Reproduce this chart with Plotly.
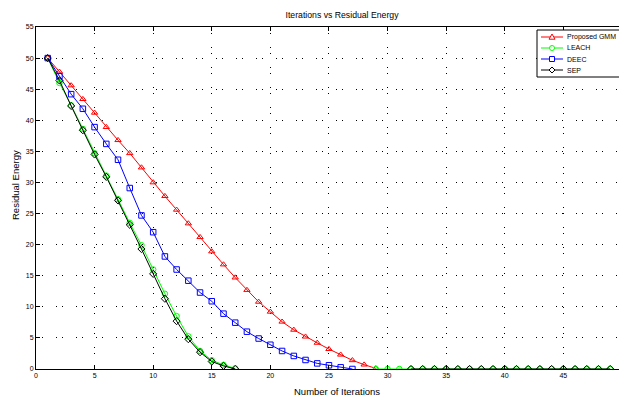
import plotly.graph_objects as go

iterations = list(range(1, 50))
gmm = [50, 47.8, 45.6, 43.4, 41.2, 38.9, 36.8, 34.7, 32.4, 30.0, 27.8, 25.6, 23.4, 21.2, 18.9,
       16.8, 14.7, 12.7, 10.8, 9.2, 7.6, 6.3, 5.2, 4.2, 3.2, 2.3, 1.4, 0.7, 0.1] + [None] * 20
leach = [50, 46.0, 42.4, 38.6, 34.7, 31.1, 27.3, 23.5, 19.9, 16.0, 12.1, 8.5, 5.25, 2.9, 1.4,
         0.65, 0.1] + [None] * 11 + [0] * 21
deec = [50, 47.1, 44.2, 41.85, 38.9, 36.2, 33.65, 29.1, 24.7, 22.0, 18.1, 16.0, 14.2, 12.3, 10.9,
        8.9, 7.45, 6.0, 4.9, 3.9, 2.9, 2.1, 1.45, 0.9, 0.6, 0.27, 0] + [None] * 22
sep = [50, 46.4, 42.3, 38.4, 34.5, 30.9, 27.1, 23.2, 19.3, 15.3, 11.3, 7.7, 4.8, 2.7, 1.2,
       0.5, 0] + [None] * 14 + [0] * 18

names = ["Proposed GMM", "LEACH", "DEEC", "SEP"]
colors = ["#ff0000", "#00ff00", "#0000ff", "#000000"]
symbols = ["triangle-up-open", "circle-open", "square-open", "diamond-open"]
values = [gmm, leach, deec, sep]

W, H = 619, 398
ML, MR, MT, MB = 36, 0, 27, 29
PW, PH = W - ML - MR, H - MT - MB

fig = go.Figure()
for name, vals, col, sym in zip(names, values, colors, symbols):
    fig.add_trace(go.Scatter(
        x=iterations, y=vals, name=name, mode="lines+markers",
        line=dict(color=col, width=1),
        marker=dict(symbol=sym, size=5.5, color=col, line=dict(width=1, color=col)),
        connectgaps=False, showlegend=False,
    ))

font = dict(family="Liberation Sans, Arial, sans-serif", color="black")

def px_x(px):
    return (px - ML) / PW

def px_y(py):
    return (H - MB - py) / PH

shapes = []
annotations = []
# custom compact legend (MATLAB style)
shapes.append(dict(type="rect", xref="paper", yref="paper",
                   x0=px_x(537), x1=px_x(622), y0=px_y(77), y1=px_y(30),
                   line=dict(color="black", width=1), fillcolor="white", layer="above"))
marker_paths = [
    "M-3,-2.2 L3,-2.2 L0,3 Z",
    None,
    "M-2.5,-2.5 L2.5,-2.5 L2.5,2.5 L-2.5,2.5 Z",
    "M0,-3 L3,0 L0,3 L-3,0 Z",
]
row_y = [37, 48, 59, 70]
for name, col, path, ry in zip(names, colors, marker_paths, row_y):
    shapes.append(dict(type="line", xref="paper", yref="paper",
                       x0=px_x(541), x1=px_x(563), y0=px_y(ry), y1=px_y(ry),
                       line=dict(color=col, width=1), layer="above"))
    if path is None:
        shapes.append(dict(type="circle", xref="paper", yref="paper",
                           xsizemode="pixel", ysizemode="pixel",
                           xanchor=px_x(552), yanchor=px_y(ry),
                           x0=-2.5, x1=2.5, y0=-2.5, y1=2.5,
                           line=dict(color=col, width=1), fillcolor="white", layer="above"))
    else:
        shapes.append(dict(type="path", xref="paper", yref="paper",
                           xsizemode="pixel", ysizemode="pixel",
                           xanchor=px_x(552), yanchor=px_y(ry), path=path,
                           line=dict(color=col, width=1), fillcolor="white", layer="above"))
    annotations.append(dict(text=name, xref="paper", yref="paper",
                            x=px_x(565), y=px_y(ry), xanchor="left", yanchor="middle",
                            showarrow=False, font=dict(size=7, **font)))

# axis titles
annotations.append(dict(text="Number of Iterations", xref="paper", yref="paper",
                        x=px_x(337), y=px_y(392), xanchor="center", yanchor="middle",
                        showarrow=False, font=dict(size=9.5, **font)))
annotations.append(dict(text="Residual Energy", xref="paper", yref="paper",
                        x=px_x(15), y=px_y(185), xanchor="center", yanchor="middle",
                        textangle=-90, showarrow=False, font=dict(size=9.5, **font)))

fig.update_layout(
    width=W, height=H,
    margin=dict(l=ML, r=MR, t=MT, b=MB, autoexpand=False),
    paper_bgcolor="white", plot_bgcolor="white",
    font=dict(size=7, **font),
    title=dict(text="Iterations vs Residual Energy", x=342 / W, xanchor="center",
               y=1 - 15 / H, yanchor="middle", font=dict(size=8.7, **font)),
    showlegend=False,
    shapes=shapes,
    annotations=annotations,
)
fig.update_xaxes(
    range=[0, 49.75], tickmode="array", tickvals=[0, 5, 10, 15, 20, 25, 30, 35, 40, 45],
    ticks="inside", ticklen=4, tickcolor="black",
    showline=True, linecolor="black", linewidth=1, mirror="ticks",
    showgrid=True, gridcolor="black", gridwidth=1, griddash="1px,5px,1px,13px",
    zeroline=False, tickfont=dict(size=7, **font),
)
fig.update_yaxes(
    range=[0, 55], tickmode="array", tickvals=list(range(0, 56, 5)),
    ticks="inside", ticklen=4, tickcolor="black",
    showline=True, linecolor="black", linewidth=1, mirror=False,
    showgrid=True, gridcolor="black", gridwidth=1, griddash="1px,5px,1px,13px",
    zeroline=False, tickfont=dict(size=7, **font),
)

fig.write_html("out.html")
